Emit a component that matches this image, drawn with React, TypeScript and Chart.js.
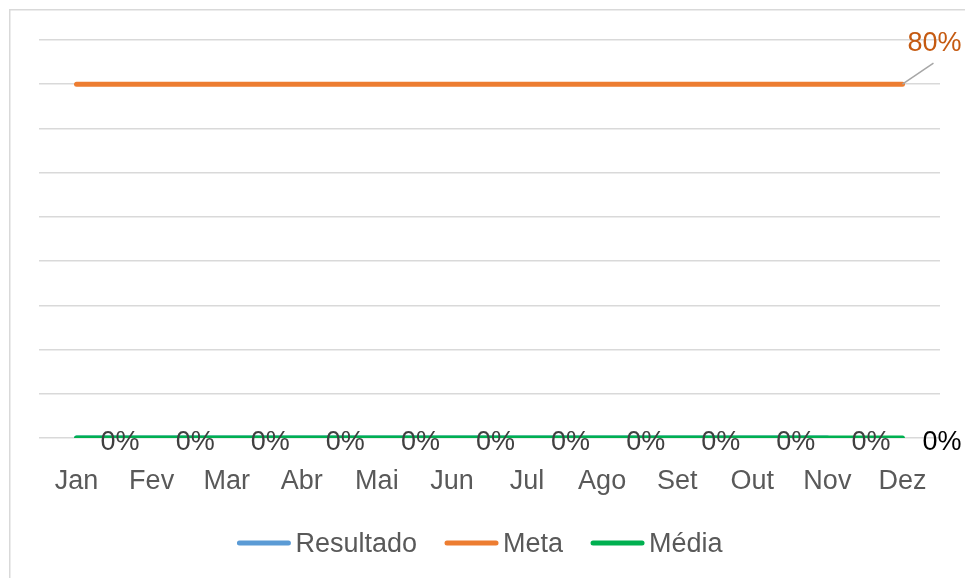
import React, { useEffect, useRef } from "react";
import { Chart, registerables } from "chart.js";

Chart.register(...registerables);

const months = ["Jan", "Fev", "Mar", "Abr", "Mai", "Jun", "Jul", "Ago", "Set", "Out", "Nov", "Dez"];
const resultado: (number | null)[] = [0, 0, 0, 0, 0, 0, 0, 0, 0, 0, 0, null];
const meta: number[] = [80, 80, 80, 80, 80, 80, 80, 80, 80, 80, 80, 80];
const media: number[] = [0, 0, 0, 0, 0, 0, 0, 0, 0, 0, 0, 0];
const seriesNames = ["Resultado", "Meta", "Média"];
const seriesColors = ["#5B9BD5", "#ED7D31", "#00B050"];

const FONT = "'Liberation Sans', Arial, sans-serif";
const FS = 27;

const labelsPlugin = {
  id: "customLabels",
  afterDatasetsDraw(chart: any) {
    const ctx = chart.ctx;
    ctx.save();
    ctx.font = `${FS}px ${FONT}`;
    ctx.textBaseline = "middle";
    ctx.textAlign = "left";
    const m0 = chart.getDatasetMeta(0);
    resultado.forEach((v, i) => {
      if (v === null) return;
      const p = m0.data[i];
      ctx.fillStyle = "#404040";
      ctx.fillText(`${v}%`, p.x + 24, p.y + 5);
    });
    const m2 = chart.getDatasetMeta(2);
    const last = media.length - 1;
    const pm = m2.data[last];
    ctx.fillStyle = "#000000";
    ctx.fillText(`${media[last]}%`, pm.x + 20, pm.y + 5);
    const m1 = chart.getDatasetMeta(1);
    const pt = m1.data[meta.length - 1];
    ctx.strokeStyle = "#A6A6A6";
    ctx.lineWidth = 1.5;
    ctx.beginPath();
    ctx.moveTo(pt.x, pt.y);
    ctx.lineTo(pt.x + 31, pt.y - 21);
    ctx.stroke();
    ctx.fillStyle = "#C55A11";
    ctx.textAlign = "center";
    ctx.fillText(`${meta[meta.length - 1]}%`, pt.x + 32, pt.y - 41);
    ctx.restore();
  },
};

const framePlugin = {
  id: "frameLegend",
  afterDraw(chart: any) {
    const ctx = chart.ctx;
    ctx.save();
    ctx.strokeStyle = "#D9D9D9";
    ctx.lineWidth = 1.5;
    ctx.beginPath();
    ctx.moveTo(9.75, chart.height + 5);
    ctx.lineTo(9.75, 9.75);
    ctx.lineTo(chart.width + 5, 9.75);
    ctx.stroke();
    ctx.font = `${FS}px ${FONT}`;
    ctx.textBaseline = "middle";
    ctx.textAlign = "left";
    const lineW = 53;
    const gapLT = 5;
    const gapItem = 28;
    const widths = seriesNames.map((n) => lineW + gapLT + ctx.measureText(n).width);
    const total = widths.reduce((a, b) => a + b, 0) + gapItem * (seriesNames.length - 1);
    let x = 480 - total / 2;
    const y = 544;
    seriesNames.forEach((n, i) => {
      ctx.strokeStyle = seriesColors[i];
      ctx.lineWidth = 5;
      ctx.lineCap = "round";
      ctx.beginPath();
      ctx.moveTo(x + 2, y - 1);
      ctx.lineTo(x + lineW - 2, y - 1);
      ctx.stroke();
      ctx.fillStyle = "#595959";
      ctx.fillText(n, x + lineW + gapLT, y + 1);
      x += widths[i] + gapItem;
    });
    ctx.restore();
  },
};

export default function App() {
  const ref = useRef<HTMLCanvasElement>(null);
  useEffect(() => {
    if (!ref.current) return;
    const chart = new Chart(ref.current, {
      type: "line",
      data: {
        labels: months,
        datasets: [
          {
            label: seriesNames[0],
            data: resultado,
            borderColor: seriesColors[0],
            backgroundColor: seriesColors[0],
            borderWidth: 5,
            borderCapStyle: "round",
            pointRadius: 0,
            order: 2,
          },
          {
            label: seriesNames[1],
            data: meta,
            borderColor: seriesColors[1],
            backgroundColor: seriesColors[1],
            borderWidth: 5,
            borderCapStyle: "round",
            pointRadius: 0,
            order: 1,
          },
          {
            label: seriesNames[2],
            data: media,
            borderColor: seriesColors[2],
            backgroundColor: seriesColors[2],
            borderWidth: 5,
            borderCapStyle: "round",
            pointRadius: 0,
            order: 0,
          },
        ],
      },
      options: {
        animation: false,
        responsive: false,
        devicePixelRatio: 1,
        layout: { padding: { left: 39, right: 25, top: 40, bottom: 0 } },
        plugins: { legend: { display: false }, tooltip: { enabled: false } },
        scales: {
          x: {
            offset: true,
            grid: { display: false, drawTicks: false },
            border: { display: false },
            ticks: { color: "#595959", font: { family: FONT, size: FS }, padding: 27, maxRotation: 0, autoSkip: false },
            afterFit(scale: any) {
              scale.height = 140;
            },
          },
          y: {
            min: 0,
            max: 90,
            ticks: { display: false, stepSize: 10 },
            grid: { color: "#D9D9D9", lineWidth: 1.5, drawTicks: false },
            border: { display: false },
          },
        },
      },
      plugins: [labelsPlugin, framePlugin],
    } as any);
    return () => chart.destroy();
  }, []);
  return (
    <div style={{ position: "absolute", left: 0, top: 0, width: 965, height: 578, background: "#fff" }}>
      <canvas ref={ref} width={965} height={578} style={{ display: "block", width: 965, height: 578 }} />
    </div>
  );
}
